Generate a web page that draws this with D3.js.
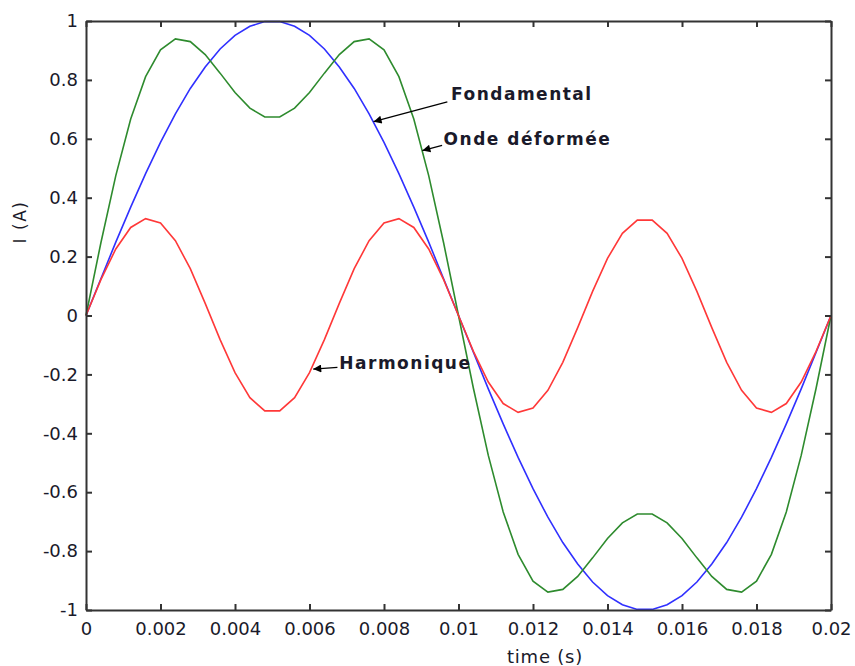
<!DOCTYPE html>
<html>
<head>
<meta charset="utf-8">
<script src="https://cdn.jsdelivr.net/npm/d3@7"></script>
<style>
  body { margin: 0; background: #fff; }
  svg text { font-family: "DejaVu Sans", Verdana, sans-serif; fill: #1a1a2a; }
  .annot { font-weight: bold; font-size: 17px; letter-spacing: 1.5px; }
</style>
</head>
<body>
<svg id="chart" width="855" height="666"></svg>
<script>
// time samples (s)
var time = [0, 0.0004, 0.0008, 0.0012, 0.0016, 0.002, 0.0024, 0.0028, 0.0032, 0.0036,
  0.004, 0.0044, 0.0048, 0.0052, 0.0056, 0.006, 0.0064, 0.0068, 0.0072, 0.0076,
  0.008, 0.0084, 0.0088, 0.0092, 0.0096, 0.01, 0.0104, 0.0108, 0.0112, 0.0116,
  0.012, 0.0124, 0.0128, 0.0132, 0.0136, 0.014, 0.0144, 0.0148, 0.0152, 0.0156,
  0.016, 0.0164, 0.0168, 0.0172, 0.0176, 0.018, 0.0184, 0.0188, 0.0192, 0.0196, 0.02];

// fundamental current (A)
var fondamental = [0, 0.125, 0.249, 0.368, 0.482, 0.588, 0.685, 0.771, 0.844, 0.905,
  0.951, 0.982, 0.998, 0.998, 0.982, 0.951, 0.905, 0.844, 0.771, 0.685,
  0.588, 0.482, 0.368, 0.249, 0.125, 0, -0.125, -0.249, -0.368, -0.482,
  -0.588, -0.685, -0.771, -0.844, -0.905, -0.951, -0.982, -0.998, -0.998, -0.982,
  -0.951, -0.905, -0.844, -0.771, -0.685, -0.588, -0.482, -0.368, -0.249, -0.125, 0];

// 3rd harmonic (A)
var harmonique = [0, 0.122, 0.226, 0.299, 0.329, 0.314, 0.254, 0.159, 0.041, -0.082,
  -0.194, -0.279, -0.324, -0.324, -0.279, -0.194, -0.082, 0.041, 0.159, 0.254,
  0.314, 0.329, 0.299, 0.226, 0.122, 0, -0.122, -0.226, -0.299, -0.329,
  -0.314, -0.254, -0.159, -0.041, 0.082, 0.194, 0.279, 0.324, 0.324, 0.279,
  0.194, 0.082, -0.041, -0.159, -0.254, -0.314, -0.329, -0.299, -0.226, -0.122, 0];

// distorted wave (A)
var ondeDeformee = [0, 0.247, 0.475, 0.667, 0.811, 0.902, 0.939, 0.930, 0.886, 0.823,
  0.757, 0.704, 0.674, 0.674, 0.704, 0.757, 0.823, 0.886, 0.930, 0.939,
  0.902, 0.811, 0.667, 0.475, 0.247, 0, -0.247, -0.475, -0.667, -0.811,
  -0.902, -0.939, -0.930, -0.886, -0.823, -0.757, -0.704, -0.674, -0.674, -0.704,
  -0.757, -0.823, -0.886, -0.930, -0.939, -0.902, -0.811, -0.667, -0.475, -0.247, 0];

var xTicks = [0, 0.002, 0.004, 0.006, 0.008, 0.01, 0.012, 0.014, 0.016, 0.018, 0.02];
var yTicks = [-1, -0.8, -0.6, -0.4, -0.2, 0, 0.2, 0.4, 0.6, 0.8, 1];

var margin = {left: 86, top: 21, right: 24, bottom: 56};
var svg = d3.select('#chart');
var W = +svg.attr('width') - margin.left - margin.right,
    H = +svg.attr('height') - margin.top - margin.bottom;

var x = d3.scaleLinear().domain([0, 0.02]).range([0, W]);
var y = d3.scaleLinear().domain([-1, 1]).range([H, 0]);

var g = svg.append('g').attr('transform', 'translate(' + margin.left + ',' + margin.top + ')');

// curves
var line = d3.line()
  .x(function(d) { return x(d[0]); })
  .y(function(d) { return y(d[1]); });

var series = [
  {vals: fondamental, color: '#3030ff'},
  {vals: ondeDeformee, color: '#2e8b2e'},
  {vals: harmonique, color: '#ff3838'}
];
g.selectAll('path.curve')
  .data(series)
  .enter()
  .append('path')
  .attr('class', 'curve')
  .attr('fill', 'none')
  .attr('stroke', function(d) { return d.color; })
  .attr('stroke-width', 1.6)
  .attr('d', function(d) { return line(time.map(function(t, i) { return [t, d.vals[i]]; })); });

// axes, ticks pointing inward (box on all 4 sides)
var fmt = function(d) { return String(d); };
var axisStyle = function(sel) {
  sel.select('.domain').attr('stroke', '#333').attr('stroke-width', 2);
  sel.selectAll('.tick line').attr('stroke', '#333').attr('stroke-width', 2);
  sel.selectAll('text').style('font-size', '18px').attr('fill', '#1a1a2a')
     .style('font-family', '"DejaVu Sans", Verdana, sans-serif');
};

g.append('g').attr('transform', 'translate(0,' + H + ')')
  .call(d3.axisBottom(x).tickValues(xTicks).tickFormat(fmt).tickSizeInner(-6).tickSizeOuter(0).tickPadding(12))
  .call(axisStyle);
g.append('g')
  .call(d3.axisTop(x).tickValues(xTicks).tickFormat('').tickSizeInner(-6).tickSizeOuter(0))
  .call(axisStyle);
g.append('g')
  .call(d3.axisLeft(y).tickValues(yTicks).tickFormat(fmt).tickSizeInner(-6).tickSizeOuter(0).tickPadding(8))
  .call(axisStyle);
g.append('g').attr('transform', 'translate(' + W + ',0)')
  .call(d3.axisRight(y).tickValues(yTicks).tickFormat('').tickSizeInner(-6).tickSizeOuter(0))
  .call(axisStyle);

// axis labels
svg.append('text')
  .attr('x', 545).attr('y', 663)
  .attr('text-anchor', 'middle')
  .style('font-size', '18px').style('letter-spacing', '0.8px')
  .text('time (s)');
svg.append('text')
  .attr('transform', 'translate(26,222) rotate(-90)')
  .attr('text-anchor', 'middle')
  .style('font-size', '17px').style('letter-spacing', '1.5px')
  .text('I (A)');

// annotations with arrows
var annotations = [
  {text: 'Fondamental', tx: 0.00980, ty: 0.732, from: [0.00970, 0.725], to: [0.00772, 0.658]},
  {text: 'Onde déformée', tx: 0.00960, ty: 0.580, from: [0.00956, 0.578], to: [0.00903, 0.560]},
  {text: 'Harmonique', tx: 0.00680, ty: -0.183, from: [0.00675, -0.176], to: [0.00610, -0.182]}
];

svg.append('defs').append('marker')
  .attr('id', 'arrow')
  .attr('viewBox', '0 0 10 10')
  .attr('refX', 10).attr('refY', 5)
  .attr('markerWidth', 11).attr('markerHeight', 8)
  .attr('markerUnits', 'userSpaceOnUse')
  .attr('orient', 'auto')
  .append('path')
  .attr('d', 'M0,0 L10,5 L0,10 Z')
  .attr('fill', '#000');

var ag = g.selectAll('g.annot')
  .data(annotations)
  .enter()
  .append('g');
ag.append('line')
  .attr('x1', function(d) { return x(d.from[0]); })
  .attr('y1', function(d) { return y(d.from[1]); })
  .attr('x2', function(d) { return x(d.to[0]); })
  .attr('y2', function(d) { return y(d.to[1]); })
  .attr('stroke', '#000')
  .attr('stroke-width', 1.3)
  .attr('marker-end', 'url(#arrow)');
ag.append('text')
  .attr('class', 'annot')
  .attr('x', function(d) { return x(d.tx); })
  .attr('y', function(d) { return y(d.ty); })
  .text(function(d) { return d.text; });
</script>
</body>
</html>
